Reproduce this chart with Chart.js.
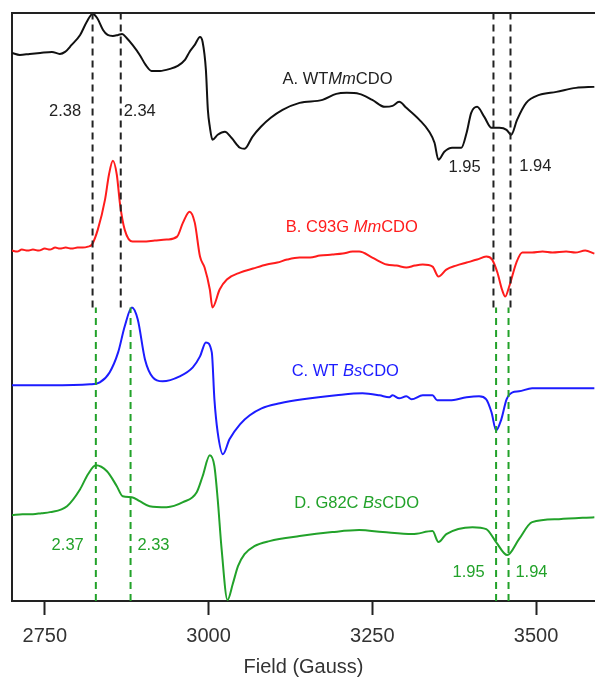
<!DOCTYPE html>
<html lang="en">
<head>
<meta charset="utf-8">
<title>EPR CDO</title>
<script src="https://cdn.jsdelivr.net/npm/chart.js@4.4.1/dist/chart.umd.min.js"></script>
<style>
  html, body { margin: 0; padding: 0; background: #fff; }
</style>
</head>
<body>
<canvas id="eprChart" width="595" height="677"></canvas>
<script>
// Поле (Гаус) та інтенсивність (відн. од., зі зсувом для кожного спектра)
const fieldTicks = [2750, 3000, 3250, 3500];

// A. WT MmCDO
const spectrumA = [
    [2700, 549], [2712, 547], [2727, 548], [2743, 549], [2761, 550], [2773, 548], [2781, 550],
    [2791, 557], [2804, 567], [2814, 580], [2823, 588], [2830, 584], [2839, 572], [2846, 567],
    [2854, 566], [2862, 567], [2868, 568], [2875, 564], [2884, 557], [2895, 547], [2904, 537],
    [2913, 531], [2926, 531], [2941, 533], [2953, 536], [2964, 542], [2971, 550], [2979, 557],
    [2987, 565], [2991, 560], [2996, 532], [2999, 492], [3002, 475], [3006, 462], [3014, 467],
    [3025, 470], [3035, 464], [3048, 454], [3055, 453], [3067, 465], [3080, 475], [3095, 484],
    [3113, 492], [3139, 499], [3174, 502], [3195, 508], [3211, 509], [3230, 508], [3250, 502],
    [3269, 495], [3281, 496], [3291, 500], [3302, 494], [3322, 482], [3337, 470], [3345, 459],
    [3351, 442], [3360, 450], [3372, 454], [3386, 454], [3394, 469], [3401, 489], [3410, 495],
    [3421, 485], [3432, 474], [3444, 474], [3455, 472], [3462, 467], [3471, 482], [3485, 499],
    [3505, 507], [3531, 510], [3561, 514], [3589, 515]
];

// B. C93G MmCDO
const spectrumB = [
    [2700, 351], [2708, 350], [2715, 352], [2724, 351], [2732, 352], [2741, 351], [2750, 353],
    [2758, 352], [2766, 354], [2773, 353], [2782, 354], [2791, 353], [2800, 354], [2808, 354],
    [2816, 355], [2822, 357], [2831, 372], [2842, 402], [2848, 427], [2854, 441], [2860, 427],
    [2865, 397], [2872, 372], [2884, 360], [2900, 360], [2918, 361], [2936, 362], [2952, 365],
    [2961, 379], [2971, 390], [2979, 379], [2987, 345], [2994, 334], [3002, 312], [3006, 294],
    [3017, 312], [3028, 322], [3048, 329], [3068, 333], [3089, 337], [3105, 339], [3120, 342],
    [3139, 344], [3155, 344], [3170, 346], [3189, 347], [3205, 348], [3220, 350], [3230, 350],
    [3250, 344], [3272, 337], [3287, 336], [3302, 334], [3315, 336], [3327, 337], [3342, 335],
    [3351, 325], [3363, 332], [3378, 336], [3394, 339], [3410, 342], [3424, 345], [3433, 342],
    [3441, 329], [3448, 312], [3453, 305], [3459, 315], [3470, 339], [3479, 349], [3494, 349],
    [3510, 350], [3525, 349], [3546, 350], [3560, 349], [3575, 351], [3589, 348]
];

// C. WT BsCDO
const spectrumC = [
    [2700, 216], [2758, 216], [2819, 217], [2834, 219], [2849, 229], [2862, 249], [2872, 275],
    [2883, 294], [2892, 282], [2903, 242], [2915, 224], [2930, 220], [2956, 225], [2976, 234],
    [2987, 245], [2996, 259], [3005, 249], [3009, 202], [3014, 169], [3022, 147], [3032, 162],
    [3048, 177], [3063, 186], [3081, 193], [3109, 198], [3144, 202], [3195, 206], [3235, 208],
    [3261, 206], [3276, 204], [3281, 206], [3291, 203], [3302, 205], [3310, 202], [3327, 206],
    [3342, 206], [3349, 201], [3368, 201], [3394, 204], [3413, 205], [3424, 202], [3432, 189],
    [3439, 171], [3447, 182], [3455, 202], [3464, 209], [3474, 210], [3494, 213], [3589, 213]
];

// D. G82C BsCDO
const spectrumD = [
    [2700, 86], [2716, 87], [2732, 87], [2745, 88], [2758, 89], [2784, 95], [2804, 112],
    [2816, 127], [2828, 136], [2845, 130], [2860, 115], [2869, 105], [2883, 104], [2895, 100],
    [2910, 95], [2936, 94], [2961, 99], [2982, 109], [2991, 125], [3002, 146], [3009, 135],
    [3014, 102], [3020, 52], [3029, 1], [3037, 17], [3045, 35], [3055, 47], [3070, 55],
    [3093, 60], [3139, 65], [3189, 69], [3230, 71], [3266, 69], [3311, 67], [3342, 70],
    [3351, 59], [3363, 67], [3403, 74], [3424, 72], [3439, 59], [3456, 46], [3474, 62],
    [3494, 79], [3535, 82], [3589, 84]
];

// Підписи спектрів (частини з курсивом позначено true)
const spectrumNames = [
    [['A. WT', false], ['Mm', true], ['CDO', false]],
    [['B. C93G ', false], ['Mm', true], ['CDO', false]],
    [['C. WT ', false], ['Bs', true], ['CDO', false]],
    [['D. G82C ', false], ['Bs', true], ['CDO', false]]
];
const nameFields = [3113, 3118, 3127, 3131];
const nameLevels = [522, 374, 230, 98];

// Положення g-значень (пунктирні лінії)
const mmLines = [2823, 2866, 3435, 3461];
const mmSpan = [294, 589];
const bsLines = [2828, 2881, 3439, 3458];
const bsSpan = [0, 294];

// Підписи g-значень
const mmG = ['2.38', '2.34', '1.95', '1.94'];
const mmGFields = [2781, 2895, 3391, 3499];
const mmGLevels = [490, 490, 434, 435];
const bsG = ['2.37', '2.33', '1.95', '1.94'];
const bsGFields = [2785, 2916, 3397, 3493];
const bsGLevels = [56, 56, 29, 29];

const FONT = "'Liberation Sans', Arial, sans-serif";
const colors = ['#111111', '#ff1c1c', '#1c1cff', '#22a22a'];

class EprChart {
    constructor(canvasId) {
        this.canvas = document.getElementById(canvasId);
        this.build();
    }

    // Лінія спектра
    traceDataset(points, color) {
        return {
            data: points.map(p => ({ x: p[0], y: p[1] })),
            borderColor: color,
            borderWidth: 2,
            pointRadius: 0,
            cubicInterpolationMode: 'monotone',
            fill: false,
            clip: 4
        };
    }

    // Вертикальна пунктирна лінія
    dashDataset(field, span, color) {
        return {
            data: [{ x: field, y: span[0] }, { x: field, y: span[1] }],
            borderColor: color,
            borderWidth: 2,
            borderDash: [7, 5],
            pointRadius: 0,
            fill: false
        };
    }

    build() {
        const datasets = [];
        mmLines.forEach(f => datasets.push(this.dashDataset(f, mmSpan, '#222222')));
        bsLines.forEach(f => datasets.push(this.dashDataset(f, bsSpan, colors[3])));
        [spectrumA, spectrumB, spectrumC, spectrumD].forEach((s, i) => {
            datasets.push(this.traceDataset(s, colors[i]));
        });

        // Текстові підписи та рамка зверху
        const labelsPlugin = {
            id: 'eprLabels',
            afterDatasetsDraw(chart) {
                const { ctx, chartArea, scales } = chart;
                const xs = scales.x, ys = scales.y;
                ctx.save();
                ctx.strokeStyle = '#222';
                ctx.lineWidth = 2;
                ctx.beginPath();
                ctx.moveTo(chartArea.left - 1, chartArea.top);
                ctx.lineTo(chartArea.right, chartArea.top);
                ctx.stroke();

                ctx.textBaseline = 'middle';
                spectrumNames.forEach((parts, i) => {
                    let x = xs.getPixelForValue(nameFields[i]);
                    const y = ys.getPixelForValue(nameLevels[i]);
                    ctx.fillStyle = i === 0 ? '#222' : colors[i];
                    parts.forEach(([text, italic]) => {
                        ctx.font = (italic ? 'italic ' : '') + '16.5px ' + FONT;
                        ctx.textAlign = 'left';
                        ctx.fillText(text, x, y);
                        x += ctx.measureText(text).width;
                    });
                });

                ctx.font = '16.5px ' + FONT;
                ctx.textAlign = 'center';
                ctx.fillStyle = '#222';
                mmG.forEach((t, i) => {
                    ctx.fillText(t, xs.getPixelForValue(mmGFields[i]), ys.getPixelForValue(mmGLevels[i]));
                });
                ctx.fillStyle = colors[3];
                bsG.forEach((t, i) => {
                    ctx.fillText(t, xs.getPixelForValue(bsGFields[i]), ys.getPixelForValue(bsGLevels[i]));
                });
                ctx.restore();
            }
        };

        this.chart = new Chart(this.canvas.getContext('2d'), {
            type: 'line',
            data: { datasets },
            options: {
                responsive: false,
                animation: false,
                events: [],
                layout: { padding: { left: 12, top: 13, right: 0, bottom: 0 } },
                plugins: { legend: { display: false }, tooltip: { enabled: false } },
                scales: {
                    x: {
                        type: 'linear',
                        min: 2700,
                        max: 3590,
                        afterBuildTicks: axis => {
                            axis.ticks = fieldTicks.map(v => ({ value: v }));
                        },
                        grid: {
                            drawOnChartArea: false,
                            drawTicks: true,
                            tickLength: 14,
                            tickWidth: 2,
                            tickColor: '#222'
                        },
                        border: { display: true, width: 2, color: '#222' },
                        ticks: {
                            padding: 11,
                            color: '#333',
                            font: { family: FONT, size: 20, lineHeight: 1 },
                            maxRotation: 0,
                            callback: v => String(v)
                        },
                        title: {
                            display: true,
                            text: 'Field (Gauss)',
                            color: '#333',
                            font: { family: FONT, size: 20, lineHeight: 1 },
                            padding: { top: 0, bottom: 0 }
                        }
                    },
                    y: {
                        type: 'linear',
                        min: 0,
                        max: 589,
                        grid: { display: false, drawTicks: false },
                        border: { display: true, width: 2, color: '#222' },
                        ticks: { display: false }
                    }
                }
            },
            plugins: [labelsPlugin]
        });
    }
}

const eprChart = new EprChart('eprChart');
</script>
</body>
</html>
